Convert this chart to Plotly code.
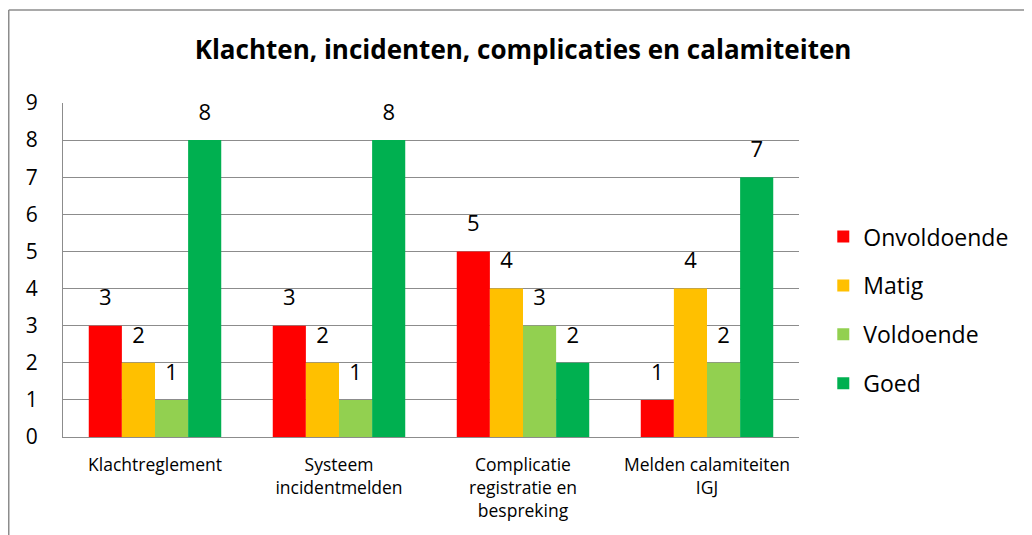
import plotly.graph_objects as go

categories = ["Klachtreglement", "Systeem<br>incidentmelden",
              "Complicatie<br>registratie en<br>bespreking",
              "Melden calamiteiten<br>IGJ"]
series_names = ["Onvoldoende", "Matig", "Voldoende", "Goed"]
onvoldoende = [3, 3, 5, 1]
matig = [2, 2, 4, 4]
voldoende = [1, 1, 3, 2]
goed = [8, 8, 2, 7]
colors = ["#FF0000", "#FFC000", "#92D050", "#00B050"]
y_ticks = list(range(0, 10))

FONT = "Open Sans"
series = [onvoldoende, matig, voldoende, goed]

fig = go.Figure()
for i, (name, vals, col) in enumerate(zip(series_names, series, colors)):
    fig.add_trace(go.Bar(
        x=categories, y=vals, name=name, marker=dict(color=col, line=dict(width=0)),
        offsetgroup=f"g{i}", legendgroup=f"g{i}", hoverinfo="y+name",
    ))
for i, (name, vals) in enumerate(zip(series_names, series)):
    fig.add_trace(go.Scatter(
        x=categories, y=vals, mode="markers+text", text=[str(v) for v in vals],
        marker=dict(size=22, color="rgba(0,0,0,0)"),
        textposition="top center", textfont=dict(size=22, color="black", family=FONT),
        offsetgroup=f"g{i}", showlegend=False, hoverinfo="skip", cliponaxis=False,
    ))

# the page body has an 8px default margin, so the figure is shifted up/left by 8px
fig.update_layout(
    width=1032, height=535,
    margin=dict(l=55, r=241, t=95, b=106),
    paper_bgcolor="white", plot_bgcolor="white",
    barmode="group", bargap=0.28, bargroupgap=0,
    scattermode="group", scattergap=0.28,
    font=dict(family=FONT, color="black"),
    title=dict(text="<b>Klachten, incidenten, complicaties en calamiteiten</b>",
               x=515 / 1032, xanchor="center", y=1 - 42 / 535, yanchor="middle",
               font=dict(size=26, family=FONT, color="black")),
    legend=dict(x=1.033, xanchor="left", y=0.38, yanchor="middle",
                font=dict(size=23, family=FONT, color="black"),
                tracegroupgap=16, bgcolor="rgba(0,0,0,0)"),
    showlegend=True,
)
fig.update_yaxes(range=[0, 9], tickvals=y_ticks, showgrid=True, gridcolor="#8C8C8C",
                 gridwidth=1, showline=True, linecolor="#8C8C8C", linewidth=1,
                 ticks="outside", ticklen=20, tickcolor="rgba(0,0,0,0)",
                 tickfont=dict(size=21, family=FONT, color="black"), zeroline=False,
                 fixedrange=True)
fig.update_xaxes(showline=True, linecolor="#8C8C8C", linewidth=1,
                 ticks="outside", ticklen=12, tickcolor="rgba(0,0,0,0)",
                 tickfont=dict(size=17.5, family=FONT, color="black"), tickangle=0,
                 fixedrange=True)

# outer chart-area border (left and top edges visible in the reference)
fig.add_shape(type="line", xref="paper", yref="paper", x0=-0.0737, x1=1.35,
              y0=1.2784, y1=1.2784, line=dict(color="#8C8C8C", width=1.5))
fig.add_shape(type="line", xref="paper", yref="paper", x0=-0.0737, x1=-0.0737,
              y0=1.2784, y1=-0.35, line=dict(color="#8C8C8C", width=1.5))

fig.write_html("out.html")
